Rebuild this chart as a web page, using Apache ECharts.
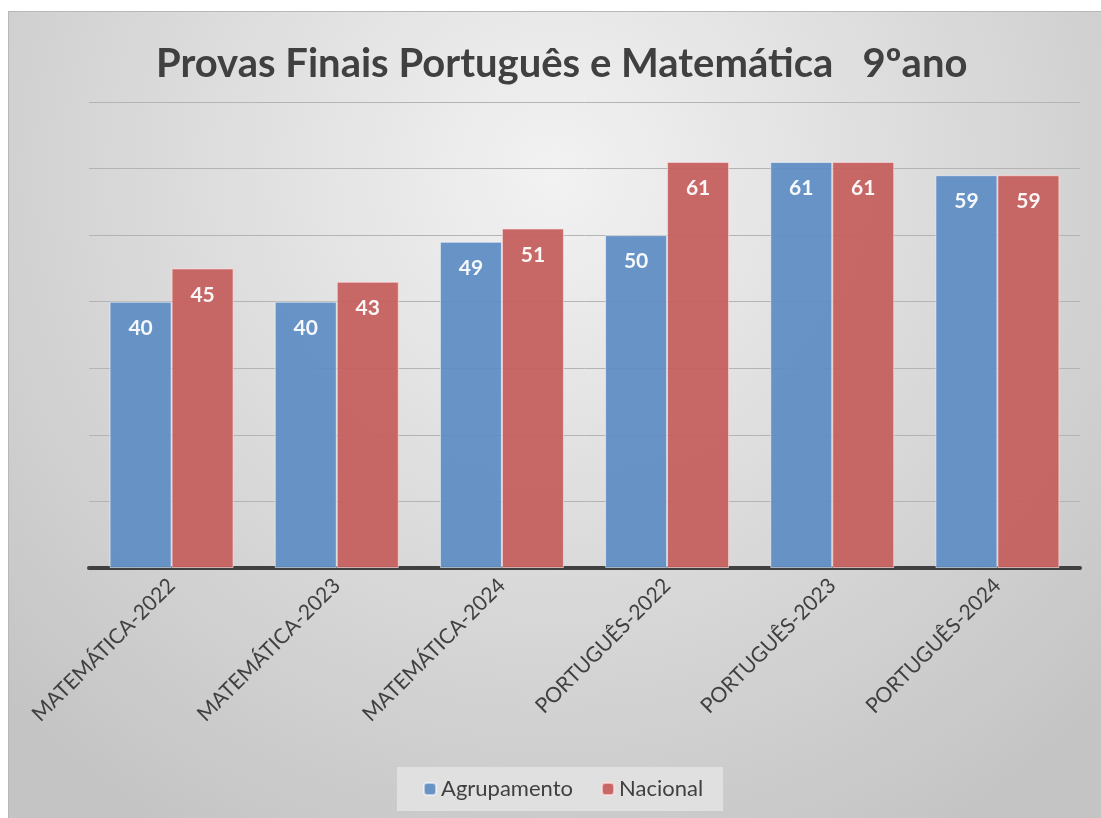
<!DOCTYPE html>
<html>
<head>
<meta charset="utf-8">
<script src="https://cdn.jsdelivr.net/npm/echarts@6/dist/echarts.min.js"></script>
<style>
  html, body { margin: 0; padding: 0; background: #fff; }
  #main {
    position: absolute; left: 8px; top: 11px;
    width: 1093px; height: 807px;
    border-left: 1px solid #b8b8b8; border-top: 1px solid #b8b8b8;
    box-sizing: border-box;
  }
</style>
</head>
<body>
<div id="main"></div>
<script>
// dados
var categorias = ['MATEMÁTICA-2022', 'MATEMÁTICA-2023', 'MATEMÁTICA-2024', 'PORTUGUÊS-2022', 'PORTUGUÊS-2023', 'PORTUGUÊS-2024'];
var agrupamento = [40, 40, 49, 50, 61, 59];
var nacional = [45, 43, 51, 61, 61, 59];

var myChart = echarts.init(document.getElementById('main'));
var fonte = 'Lato, "Open Sans", sans-serif';
var rotulo = {
    show: true,
    position: 'insideTop',
    distance: 16,
    color: '#fff',
    fontWeight: 'bold',
    fontSize: 21,
    fontFamily: fonte
};

myChart.setOption({
    backgroundColor: {
        type: 'radial', x: 0.5, y: 0.2, r: 0.95,
        colorStops: [
            { offset: 0, color: '#f2f2f2' },
            { offset: 1, color: '#c4c4c4' }
        ]
    },
    title: {
        text: 'Provas Finais Português e Matemática   9ºano',
        left: 142,
        top: 27,
        textStyle: { fontSize: 40, fontWeight: 'bold', color: '#404040', fontFamily: fonte }
    },
    legend: {
        data: ['Agrupamento', 'Nacional'],
        left: 388,
        top: 755,
        backgroundColor: '#e0e0e0',
        padding: [11, 20, 11, 26],
        itemWidth: 12,
        itemHeight: 12,
        itemGap: 28,
        textStyle: { fontSize: 22, color: '#404040', fontFamily: fonte }
    },
    grid: { left: 80, right: 21, top: 90, bottom: 250 },
    xAxis: {
        type: 'category',
        data: categorias,
        axisLine: { lineStyle: { color: '#404040', width: 4 } },
        axisTick: { show: false },
        axisLabel: {
            rotate: 45,
            margin: 14,
            fontSize: 21,
            color: '#404040',
            fontFamily: fonte,
            interval: 0
        }
    },
    yAxis: {
        type: 'value',
        min: 0,
        max: 70,
        interval: 10,
        axisLabel: { show: false },
        axisLine: { show: false },
        axisTick: { show: false },
        splitLine: { lineStyle: { color: '#b4b4b4', width: 1 } }
    },
    series: [
        {
            name: 'Agrupamento',
            type: 'bar',
            data: agrupamento,
            barWidth: 62,
            barGap: '0%',
            itemStyle: { color: '#5f8dc3', opacity: 0.94, borderColor: 'rgba(255,255,255,0.55)', borderWidth: 1 },
            label: rotulo
        },
        {
            name: 'Nacional',
            type: 'bar',
            data: nacional,
            barWidth: 62,
            barGap: '0%',
            itemStyle: { color: '#c55f5d', opacity: 0.94, borderColor: 'rgba(255,225,225,0.7)', borderWidth: 1 },
            label: rotulo
        }
    ]
});
</script>
</body>
</html>
